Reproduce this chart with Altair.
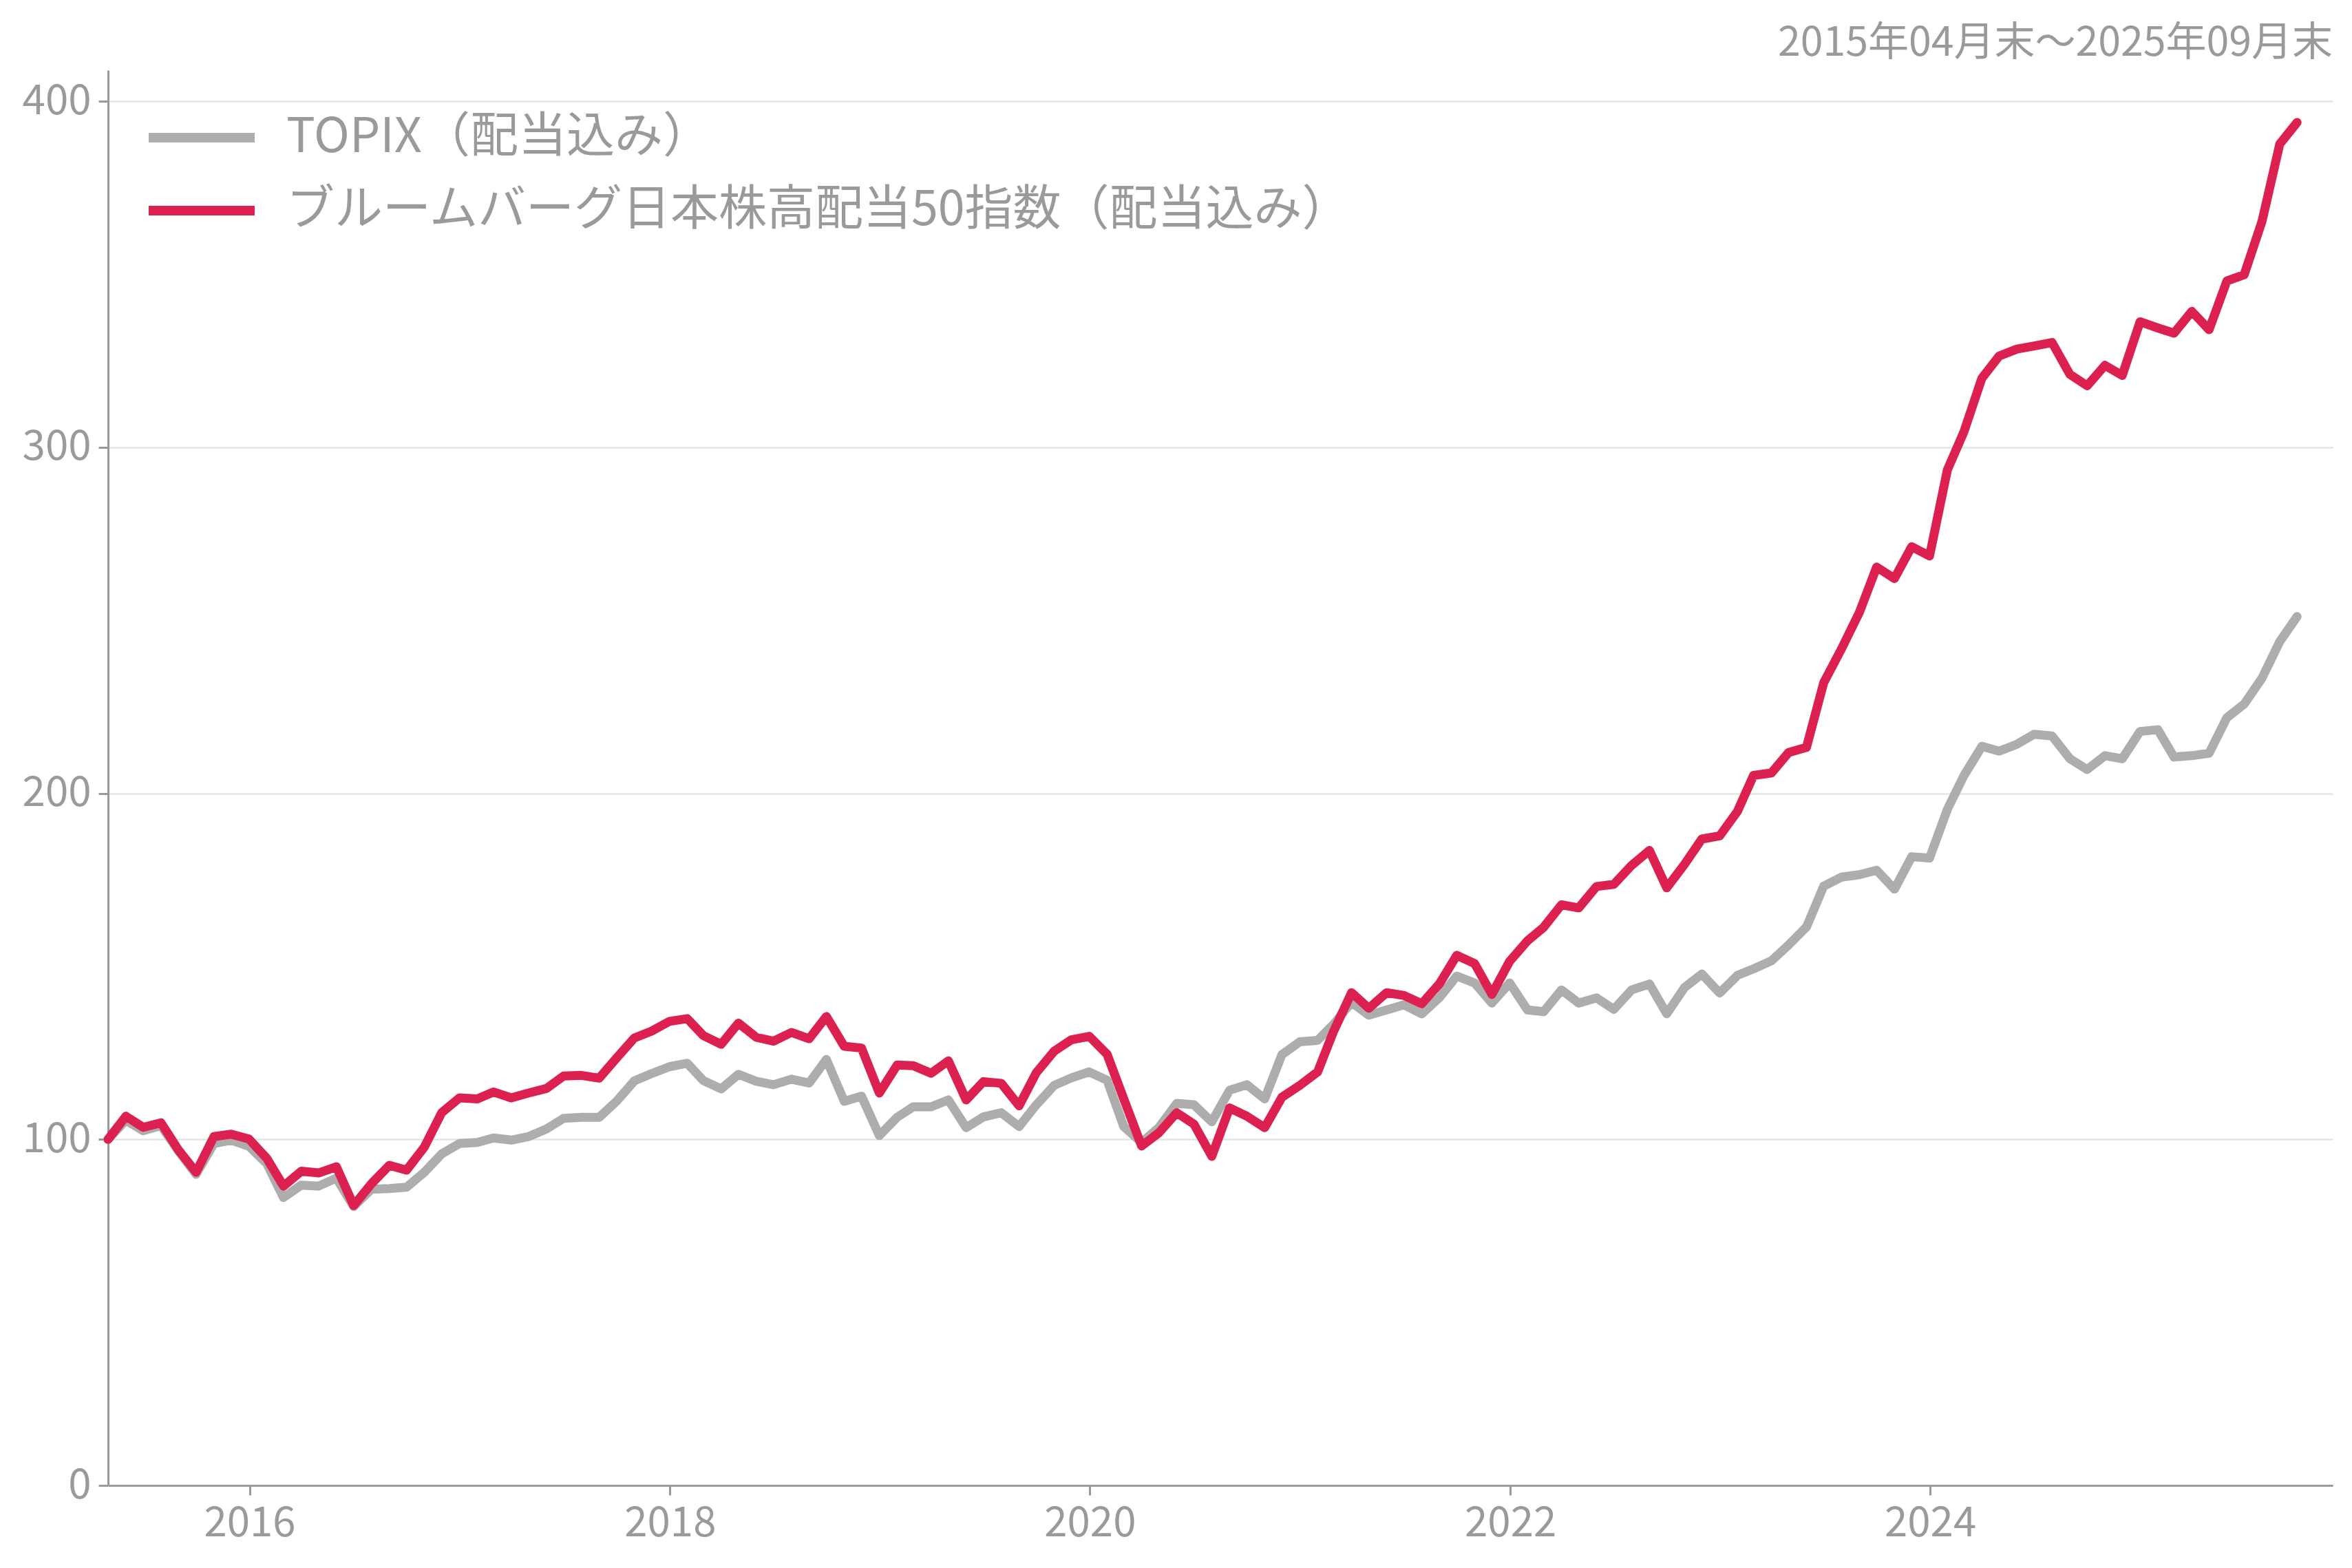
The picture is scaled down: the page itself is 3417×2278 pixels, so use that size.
import calendar
import altair as alt
import pandas as pd

FONT = "Noto Sans CJK JP"
TEXT_COLOR = "#9a9a9a"

TOPIX_NAME = "TOPIX（配当込み）"
BBG_NAME = "ブルームバーグ日本株高配当50指数（配当込み）"
SUBTITLE = "2015年04月末～2025年09月末"

# month-end dates 2015-04 .. 2025-09
months = []
y, m = 2015, 4
while (y, m) <= (2025, 9):
    months.append(f"{y:04d}-{m:02d}-{calendar.monthrange(y, m)[1]:02d}")
    m += 1
    if m > 12:
        y, m = y + 1, 1

topix = [
    100.0, 105.5, 102.5, 104.0, 96.5, 89.9, 98.8, 99.8, 98.0, 93.0,
    83.2, 86.8, 86.5, 88.8, 80.6, 85.6, 85.8, 86.2, 90.5, 95.8,
    98.8, 99.1, 100.4, 99.8, 100.8, 103.0, 106.1, 106.4, 106.4, 111.0,
    116.9, 119.0, 121.0, 122.0, 117.0, 114.6, 118.8, 116.8, 115.8, 117.4,
    116.3, 123.1, 111.0, 112.5, 101.1, 106.4, 109.4, 109.4, 111.4, 103.4,
    106.5, 107.7, 103.7, 110.0, 115.6, 117.8, 119.5, 117.1, 103.7, 99.1,
    103.4, 110.4, 110.0, 105.1, 114.2, 115.8, 111.7, 124.5, 128.2, 128.6,
    133.3, 139.6, 135.9, 137.4, 138.9, 136.3, 141.0, 147.2, 145.2, 139.4,
    145.2, 137.4, 136.9, 143.2, 139.4, 140.9, 137.6, 143.2, 144.9, 136.3,
    143.9, 147.8, 142.3, 147.4, 149.3, 151.6, 156.2, 161.4, 173.2, 175.8,
    176.5, 177.8, 172.3, 181.7, 181.3, 195.4, 205.2, 213.6, 212.2, 214.2,
    217.1, 216.6, 210.0, 206.9, 210.9, 210.0, 217.9, 218.4, 210.5, 210.9,
    211.6, 221.9, 225.8, 233.3, 243.9, 251.1,
]

bbg = [
    100.0, 106.7, 103.5, 104.8, 96.8, 90.5, 100.8, 101.5, 100.1, 94.5,
    86.5, 90.8, 90.3, 92.1, 80.9, 87.2, 92.5, 91.1, 97.8, 107.7,
    112.0, 111.7, 113.7, 112.0, 113.4, 114.7, 118.3, 118.5, 117.7, 123.5,
    129.3, 131.3, 134.1, 134.9, 130.0, 127.5, 133.6, 129.5, 128.4, 130.9,
    129.1, 135.5, 126.9, 126.4, 113.4, 121.5, 121.3, 119.1, 122.7, 111.4,
    116.7, 116.2, 109.7, 119.3, 125.5, 128.8, 129.8, 124.6, 111.7, 98.1,
    101.9, 107.7, 104.4, 95.1, 109.1, 106.7, 103.4, 112.2, 115.6, 119.5,
    131.3, 142.4, 137.9, 142.4, 141.6, 139.2, 145.0, 153.2, 150.8, 141.9,
    151.5, 157.4, 161.3, 167.8, 166.9, 173.1, 173.7, 179.2, 183.5, 172.7,
    179.5, 186.8, 187.7, 194.8, 205.2, 205.9, 211.8, 213.3, 232.0, 241.8,
    252.3, 265.4, 262.1, 271.3, 268.6, 293.5, 304.6, 320.0, 326.4, 328.4,
    329.3, 330.3, 321.1, 317.8, 323.7, 320.8, 336.3, 334.5, 333.0, 339.3,
    334.0, 348.1, 349.9, 365.3, 387.7, 393.9,
]

y_ticks = [0, 100, 200, 300, 400]
x_tick_years = [2016, 2018, 2020, 2022, 2024]

rows = []
for d, v in zip(months, topix):
    rows.append({"date": d, "series": TOPIX_NAME, "value": v})
for d, v in zip(months, bbg):
    rows.append({"date": d, "series": BBG_NAME, "value": v})
df = pd.DataFrame(rows)

x_axis = alt.Axis(
    values=[alt.DateTime(year=yy, month=1, date=1, utc=True) for yy in x_tick_years],
    format="%Y",
    title=None,
    grid=False,
    labelFont=FONT,
    labelFontSize=60,
    labelColor=TEXT_COLOR,
    labelPadding=12,
    tickSize=14,
    tickWidth=3,
    tickColor="#999999",
    domainColor="#999999",
    domainWidth=3,
)

y_axis = alt.Axis(
    values=y_ticks,
    title=None,
    grid=True,
    gridColor="#e4e4e4",
    gridWidth=2.5,
    labelFont=FONT,
    labelFontSize=60,
    labelColor=TEXT_COLOR,
    labelPadding=11,
    tickSize=14,
    tickWidth=3,
    tickColor="#999999",
    domainColor="#999999",
    domainWidth=3,
)

legend = alt.Legend(
    title=None,
    orient="none",
    legendX=52,
    legendY=58,
    padding=0,
    symbolType="stroke",
    symbolSize=23716,
    symbolStrokeWidth=14,
    symbolOffset=0,
    clipHeight=80,
    rowPadding=26,
    labelOffset=39,
    labelFont=FONT,
    labelFontSize=70,
    labelColor=TEXT_COLOR,
    labelLimit=0,
)

chart = (
    alt.Chart(df)
    .mark_line(strokeWidth=13, strokeCap="round", strokeJoin="round")
    .encode(
        x=alt.X(
            "date:T",
            scale=alt.Scale(
                type="utc",
                domain=[
                    alt.DateTime(year=2015, month=4, date=30, utc=True),
                    alt.DateTime(year=2025, month=12, date=1, utc=True),
                ],
                nice=False,
            ),
            axis=x_axis,
        ),
        y=alt.Y(
            "value:Q",
            scale=alt.Scale(domain=[0, 409], nice=False),
            axis=y_axis,
        ),
        color=alt.Color(
            "series:N",
            scale=alt.Scale(domain=[TOPIX_NAME, BBG_NAME], range=["#adadad", "#dc2151"]),
            legend=legend,
        ),
    )
    .properties(
        width=3232,
        height=2056,
        autosize=alt.AutoSizeParams(type="none"),
        padding={"left": 149, "top": 94, "right": 20, "bottom": 112},
        title=alt.TitleParams(
            text=SUBTITLE,
            anchor="end",
            fontSize=59,
            font=FONT,
            fontWeight="normal",
            color=TEXT_COLOR,
            offset=9,
        ),
    )
    .configure_view(strokeWidth=0)
)

chart.save("out.html", embed_options={"renderer": "svg", "actions": False})
